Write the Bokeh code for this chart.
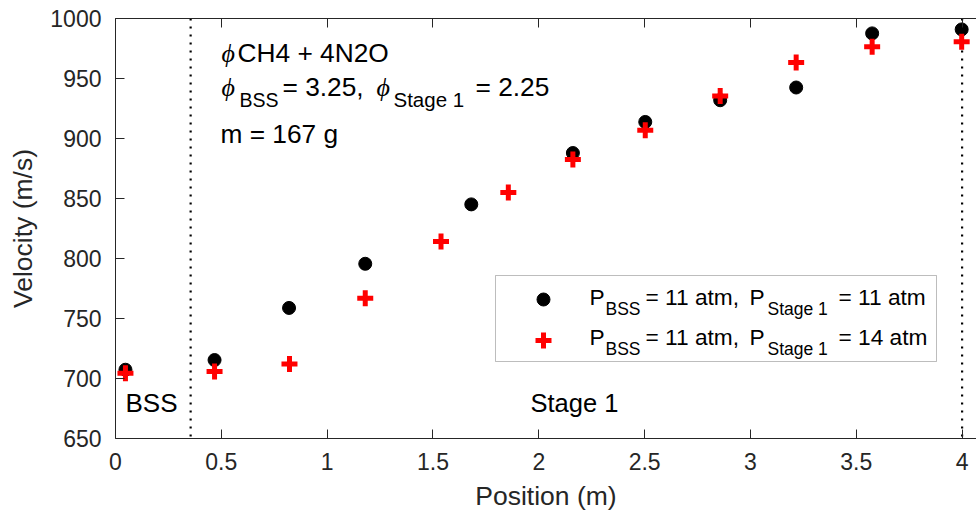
from bokeh.plotting import figure
from bokeh.models import Label, BoxAnnotation, Span, LinearAxis, FixedTicker, Range1d
from bokeh.embed import file_html
from bokeh.resources import INLINE

# ---------------- data ----------------
pos_11 = [0.047, 0.468, 0.820, 1.180, 1.681, 2.161, 2.503, 2.857, 3.216, 3.575, 3.998]
vel_11 = [707.3, 715.4, 758.8, 795.6, 845.1, 887.9, 913.8, 931.9, 942.5, 987.6, 990.9]

pos_14 = [0.047, 0.468, 0.822, 1.180, 1.538, 1.856, 2.161, 2.503, 2.857, 3.216, 3.575, 3.998]
vel_14 = [704.3, 705.9, 712.1, 766.9, 814.2, 855.1, 882.6, 906.9, 935.5, 963.4, 976.4, 980.6]

x_ticks = [0, 0.5, 1, 1.5, 2, 2.5, 3, 3.5, 4]
x_tick_labels = ["0", "0.5", "1", "1.5", "2", "2.5", "3", "3.5", "4"]
y_ticks = [650, 700, 750, 800, 850, 900, 950, 1000]
y_tick_labels = ["650", "700", "750", "800", "850", "900", "950", "1000"]

section_bounds = [0.355, 4.0]

# ---------------- layout ----------------
W, H = 976, 517
FR_L, FR_T, FR_R, FR_B = 115, 18, 976, 438
FR_W, FR_H = FR_R - FR_L, FR_B - FR_T
X_START, X_END = 0.0, FR_W / 211.65
Y_START, Y_END = 650.0, 1000.0


def px_x(px):
    return X_START + (px - FR_L) * (X_END - X_START) / FR_W


def px_y(py):
    return Y_END - (py - FR_T) * (Y_END - Y_START) / FR_H


AX = "#262626"
p = figure(width=W, height=H, x_range=Range1d(X_START, X_END), y_range=Range1d(Y_START, Y_END),
           output_backend="svg", toolbar_location=None,
           min_border_left=FR_L, min_border_right=0, min_border_top=FR_T,
           min_border_bottom=H - FR_B)
p.outline_line_color = None
p.xgrid.grid_line_color = None
p.ygrid.grid_line_color = None
p.background_fill_color = "white"
p.border_fill_color = "white"

for ax, ticks, labels in ((p.xaxis[0], x_ticks, x_tick_labels), (p.yaxis[0], y_ticks, y_tick_labels)):
    ax.ticker = FixedTicker(ticks=ticks)
    ax.major_label_overrides = dict(zip(ticks, labels))
    ax.major_tick_in = 9
    ax.major_tick_out = 0
    ax.minor_tick_in = 0
    ax.minor_tick_out = 0
    ax.axis_line_color = AX
    ax.major_tick_line_color = AX
    ax.major_label_text_color = AX
    ax.major_label_text_font = "Liberation Sans"
    ax.major_label_text_font_size = "23px"
    ax.axis_label_text_font = "Liberation Sans"
    ax.axis_label_text_font_size = "26.5px"
    ax.axis_label_text_font_style = "normal"
    ax.axis_label_text_color = AX
    ax.major_label_standoff = 14

p.xaxis.axis_label = "Position (m)"
p.yaxis.axis_label = "Velocity (m/s)"
p.xaxis.axis_label_standoff = 8
p.yaxis.axis_label_standoff = 9

top = LinearAxis(ticker=FixedTicker(ticks=x_ticks), major_tick_in=9, major_tick_out=0,
                 minor_tick_in=0, minor_tick_out=0, major_label_text_font_size="0px",
                 major_label_text_color=None, major_label_standoff=0,
                 axis_line_color=AX, major_tick_line_color=AX)
p.add_layout(top, "above")

# dotted section boundaries
for xb in section_bounds:
    p.add_layout(Span(location=xb, dimension="height", line_color="black", line_width=2.2,
                      line_dash="2 6", level="underlay"))

# data
p.scatter(pos_11, vel_11, marker="circle", size=13, fill_color="black", line_color="black")
p.scatter(pos_14, vel_14, marker="cross", size=16, line_color="red", line_width=5)

# ---------------- texts ----------------
SANS = "Liberation Sans"
SERIF = "Liberation Serif"


def put(text, px, py, size, font=SANS, style="normal", color="black"):
    # py is the visual baseline in pixels; compensate for label baseline placement
    py = py - 0.4 * size
    p.add_layout(Label(x=px_x(px), y=px_y(py), text=text, text_font=font,
                       text_font_size=f"{size}px", text_font_style=style,
                       text_color=color, text_align="left", text_baseline="alphabetic"))


# annotation block
put("\u03d5", 221, 63, 26, SERIF, "italic")
put("CH4 + 4N2O", 237, 63, 26.3)
put("\u03d5", 221, 97, 26, SERIF, "italic")
put("BSS", 239, 107, 19.5)
put("= 3.25,", 282, 97, 26.3)
put("\u03d5", 376, 97, 26, SERIF, "italic")
put("Stage 1", 393, 107, 20.5)
put("= 2.25", 475, 97, 26.3)
put("m = 167 g", 220, 144, 26.3)

put("BSS", 125, 413, 26)
put("Stage 1", 530, 413, 25.5)

# legend
p.add_layout(BoxAnnotation(left=px_x(495), right=px_x(936), top=px_y(275), bottom=px_y(361),
                           fill_color=None, line_color=AX, line_width=1))
p.scatter([px_x(543)], [px_y(299)], marker="circle", size=13, fill_color="black", line_color="black")
p.scatter([px_x(543)], [px_y(340)], marker="cross", size=16, line_color="red", line_width=5)

legend_rows = [("= 11 atm", 306), ("= 14 atm", 346)]
for tail, bl in legend_rows:
    put("P", 589, bl, 22.7)
    put("BSS", 605, bl + 9, 17.5)
    put("= 11 atm,", 645, bl, 22.7)
    put("P", 749, bl, 22.7)
    put("Stage 1", 767, bl + 9, 17.5)
    put(tail, 838, bl, 22.7)

open("out.html", "w").write(file_html(p, INLINE))
